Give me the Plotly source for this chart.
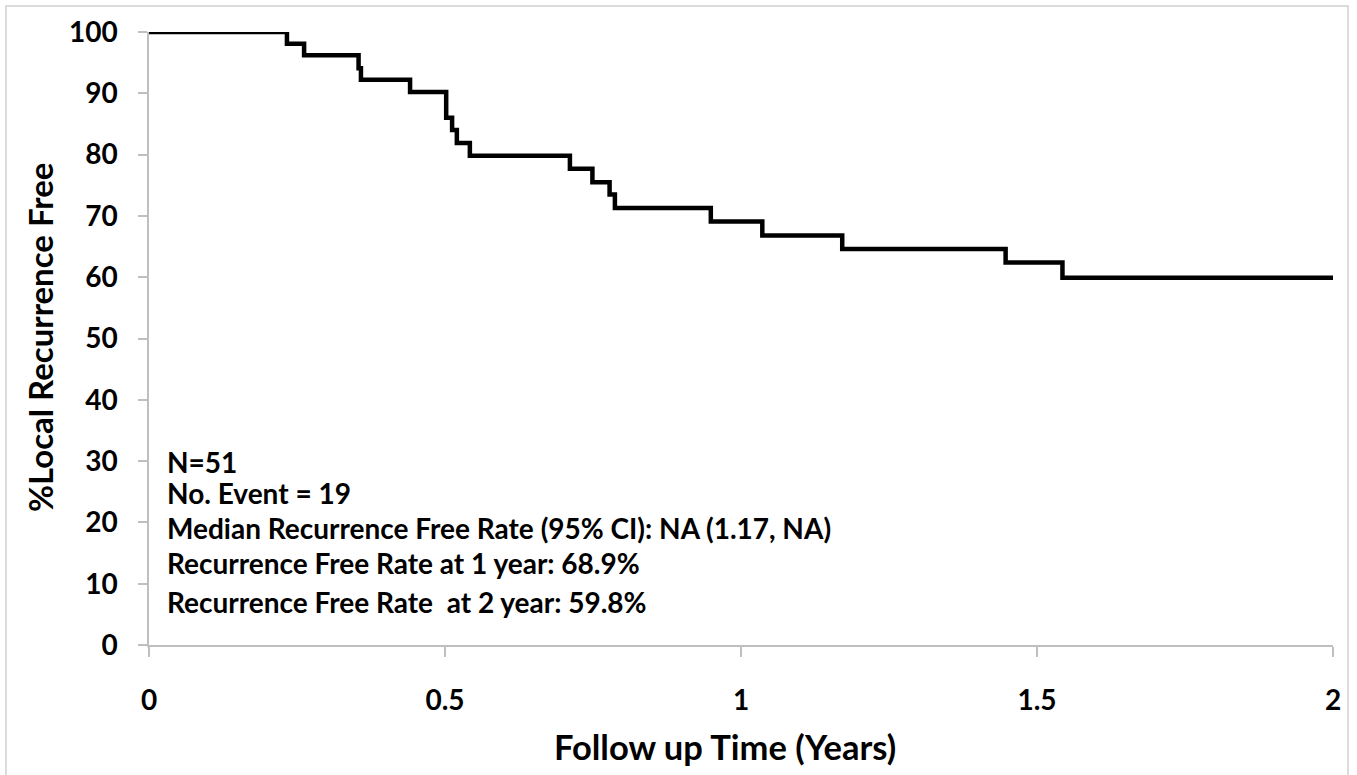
import plotly.graph_objects as go

# Kaplan-Meier step data (years, % local recurrence free)
times = [0, 0.233, 0.262, 0.354, 0.358, 0.441, 0.502, 0.512, 0.520, 0.542,
         0.711, 0.749, 0.778, 0.787, 0.949, 1.036, 1.171, 1.447, 1.543, 2.0]
surv = [100, 98.1, 96.2, 94.1, 92.2, 90.2, 86.0, 84.0, 81.9, 79.8,
        77.7, 75.5, 73.5, 71.3, 69.1, 66.8, 64.6, 62.4, 59.9, 59.9]

x_ticks = [0, 0.5, 1, 1.5, 2]
x_tick_labels = ["0", "0.5", "1", "1.5", "2"]
y_ticks = [0, 10, 20, 30, 40, 50, 60, 70, 80, 90, 100]

x_title = "Follow up Time (Years)"
y_title = "%Local Recurrence Free"

info_lines = [
    "N=51",
    "No. Event = 19",
    "Median Recurrence Free Rate (95% CI): NA (1.17, NA)",
    "Recurrence Free Rate at 1 year: 68.9%",
    "Recurrence Free Rate  at 2 year: 59.8%",
]
info_y = [0.299, 0.248, 0.191, 0.134, 0.070]

FONT = "Lato"
AXC = "#bfbfbf"

fig = go.Figure()
fig.add_trace(go.Scatter(
    x=times, y=surv, mode="lines",
    line=dict(color="black", width=4.5, shape="hv"),
    hoverinfo="skip", showlegend=False,
))

for txt, yy in zip(info_lines, info_y):
    fig.add_annotation(
        x=0.0135, y=yy, xref="paper", yref="paper",
        text=txt.replace("  ", "&nbsp; "), showarrow=False,
        xanchor="left", yanchor="middle",
        font=dict(family=FONT, size=28, color="black", weight="bold"),
    )

# axis titles
fig.add_annotation(
    x=0.4865, y=-0.1648, xref="paper", yref="paper",
    text=x_title, showarrow=False, xanchor="center", yanchor="middle",
    font=dict(family=FONT, size=34.5, color="black", weight="bold"),
)
fig.add_annotation(
    x=-0.092, y=0.5008, xref="paper", yref="paper",
    text=y_title, showarrow=False, xanchor="center", yanchor="middle",
    textangle=-90,
    font=dict(family=FONT, size=33, color="black", weight="bold"),
)

fig.add_shape(
    type="rect", xref="paper", yref="paper",
    x0=-0.1208, x1=1.0127, y0=-0.3, y1=1.0424,
    line=dict(color="#d0d0d0", width=1.5), fillcolor="rgba(0,0,0,0)",
    layer="below",
)

fig.update_layout(
    width=1357, height=775,
    margin=dict(l=149, r=24, t=32, b=130),
    paper_bgcolor="white", plot_bgcolor="white",
    font=dict(family=FONT, color="black"),
    xaxis=dict(
        range=[0, 2], tickvals=x_ticks, ticktext=x_tick_labels,
        showgrid=False, zeroline=False,
        showline=True, linecolor=AXC, linewidth=1.5,
        ticks="outside", ticklen=10, tickcolor=AXC, tickwidth=1.5,
        ticklabelstandoff=20,
        tickfont=dict(family=FONT, size=28, color="black", weight="bold"),
        automargin=False,
    ),
    yaxis=dict(
        range=[0, 100], tickvals=y_ticks,
        showgrid=False, zeroline=False,
        showline=True, linecolor=AXC, linewidth=1.5,
        ticks="outside", ticklen=9, tickcolor=AXC, tickwidth=1.5,
        ticklabelstandoff=15,
        tickfont=dict(family=FONT, size=28, color="black", weight="bold"),
        automargin=False,
    ),
)

fig.write_html(
    "out.html",
    config={"displayModeBar": False},
    post_script="document.body.style.margin='0px';document.body.style.overflow='hidden';",
)
